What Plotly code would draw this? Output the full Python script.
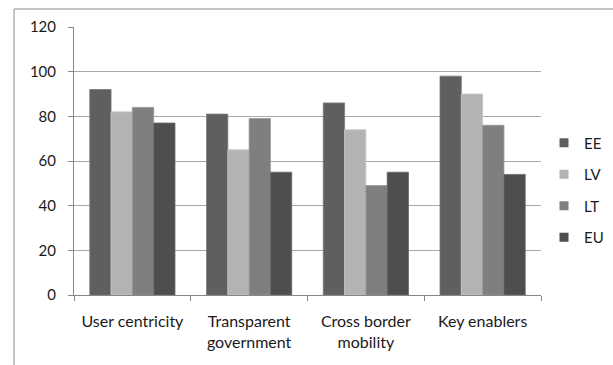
import plotly.graph_objects as go

# eGovernment benchmark scores by top-level indicator
categories = ["User centricity", "Transparent<br>government", "Cross border<br>mobility", "Key enablers"]
series_names = ["EE", "LV", "LT", "EU"]
ee = [92, 81, 86, 98]
lv = [82, 65, 74, 90]
lt = [84, 79, 49, 76]
eu = [77, 55, 55, 54]
y_ticks = [0, 20, 40, 60, 80, 100, 120]

values = [ee, lv, lt, eu]
fills = ["#5f5f5f", "#b3b3b3", "#7f7f7f", "#4e4e4e"]
edges = ["#7a7a7a", "#c8c8c8", "#959595", "#6a6a6a"]

W, H = 613, 365
ml, mr, mt, mb = 74, 72, 27, 70
pw, ph = W - ml - mr, H - mt - mb

fig = go.Figure()
for name, vals, fc, ec in zip(series_names, values, fills, edges):
    fig.add_trace(go.Bar(
        x=categories, y=vals, name=name, showlegend=False,
        marker=dict(color=fc, line=dict(color=ec, width=0.8)),
    ))
    # square legend keys
    fig.add_trace(go.Scatter(
        x=[None], y=[None], name=name, mode="markers", legendgroup=name,
        marker=dict(symbol="square", size=9, color=fc),
    ))

font_family = "Lato, 'Liberation Sans', sans-serif"

# outer chart frame: top and left edges, running to the canvas edges
frame_x = (14 - ml) / pw
frame_y = 1 + (mt - 9) / ph
frame_style = dict(color="#8a8a8a", width=1)
fig.add_shape(type="line", xref="paper", yref="paper",
              x0=frame_x, x1=(W - ml) / pw, y0=frame_y, y1=frame_y, line=frame_style)
fig.add_shape(type="line", xref="paper", yref="paper",
              x0=frame_x, x1=frame_x, y0=-mb / ph, y1=frame_y, line=frame_style)

fig.update_layout(
    width=W, height=H,
    margin=dict(l=ml, r=mr, t=mt, b=mb, pad=0, autoexpand=False),
    paper_bgcolor="white", plot_bgcolor="white",
    barmode="group", bargap=0.27, bargroupgap=0,
    font=dict(family=font_family, size=15, color="#1a1a1a"),
    showlegend=True,
    legend=dict(
        x=(544 - ml) / pw, xanchor="left",
        y=(H - mb - 190) / ph, yanchor="middle",
        tracegroupgap=9, font=dict(size=15),
        bgcolor="rgba(0,0,0,0)", borderwidth=0,
    ),
    xaxis=dict(
        type="category", showgrid=False, showline=True, linecolor="#868686", linewidth=1,
        ticks="outside", ticklen=5, tickcolor="#868686", tickson="boundaries",
        ticklabelstandoff=12, tickfont=dict(size=16), fixedrange=True,
    ),
    yaxis=dict(
        range=[0, 120], tickvals=y_ticks, showgrid=True, gridcolor="#a8a8a8", gridwidth=1,
        showline=True, linecolor="#868686", linewidth=1, zeroline=False,
        ticks="outside", ticklen=5, tickcolor="#868686", ticklabelstandoff=9,
        fixedrange=True,
    ),
)

fig.write_html("out.html")
